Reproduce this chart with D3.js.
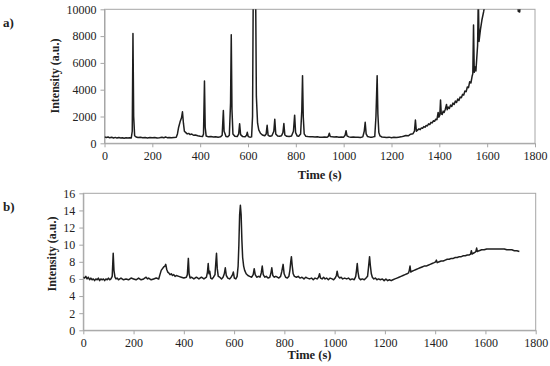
<!DOCTYPE html>
<html>
<head>
<meta charset="utf-8">
<title>Intensity vs time</title>
<script src="https://d3js.org/d3.v7.min.js"></script>
<style>
  body { margin: 0; background: #fff; }
  text { font-family: "Liberation Serif", "Times New Roman", serif; fill: #222; }
</style>
</head>
<body>
<div id="chart"></div>
<script>
// Panel a) data
var timeA = [0,8,15,22,30,38,45,52,60,68,75,82,90,98,105,112,116,119,122,126,132,140,150,160,170,180,190,200,210,220,230,240,248,255,262,270,280,290,300,305,310,316,322,326,330,334,340,346,352,358,365,372,380,390,400,410,414,418,421,425,435,445,455,465,475,485,492,497,500,504,508,515,522,527,530,533,537,545,555,561,565,569,578,588,594,597,601,608,615,619,622,627,632,635,640,645,652,660,670,676,680,684,692,700,708,712,716,724,732,740,746,750,754,762,772,782,790,795,799,806,812,820,825,828,831,835,842,850,860,870,880,890,900,910,920,930,936,940,944,952,960,970,980,990,1000,1006,1010,1014,1022,1030,1040,1050,1060,1070,1080,1086,1090,1094,1100,1110,1120,1130,1135,1140,1143,1147,1152,1160,1170,1180,1190,1200,1210,1220,1230,1240,1250,1260,1270,1280,1290,1296,1300,1304,1310,1315,1320,1325,1330,1335,1340,1345,1350,1355,1360,1365,1370,1375,1380,1385,1390,1395,1398,1402,1405,1408,1412,1416,1420,1425,1430,1433,1437,1442,1447,1452,1457,1462,1467,1472,1477,1482,1487,1492,1497,1502,1507,1512,1517,1522,1527,1532,1537,1540,1543,1546,1550,1553,1557,1560,1563,1566,1572,1578,1585,1592,1600,1620,1660,1700,1725,1730,1736,1740];
var intensityA = [480,430,470,410,450,400,440,390,430,400,420,380,410,390,420,400,900,8200,2000,560,470,430,450,410,440,400,430,410,440,400,420,450,410,470,420,440,410,430,450,700,1200,1600,1900,2350,1500,900,800,700,740,650,690,600,620,560,520,500,700,4650,1200,550,480,500,470,490,460,480,600,2450,900,720,500,480,600,3000,8100,2500,700,520,500,700,1450,650,500,480,600,820,500,460,480,2000,11500,12000,11000,3500,1500,1000,750,620,560,700,1350,600,520,560,900,1800,700,540,520,560,800,1480,620,520,500,540,900,2100,800,540,520,700,2500,5050,2000,700,520,500,480,490,470,480,460,450,470,450,520,750,500,480,470,490,460,470,460,600,940,560,480,460,470,450,460,440,480,900,1570,700,500,460,460,500,2000,5050,2200,800,550,470,450,430,460,420,450,430,460,480,520,580,560,680,720,900,1740,900,1000,1080,1020,1150,1120,1250,1200,1330,1300,1450,1400,1560,1520,1680,1640,1800,1760,2300,1950,2100,3230,2200,2150,2400,2300,2550,2900,2500,2700,2600,2850,2750,3000,2900,3150,3050,3300,3200,3450,3400,3650,3600,3900,3850,4200,4150,4600,4500,5000,5200,8830,5300,5700,5400,6500,7300,11000,7600,8500,9200,9800,10500,11200,12000,12000,12000,11500,9850,9800,11000];

// Panel b) data
var timeB = [0,5,10,15,20,25,30,35,40,45,50,55,60,65,70,75,80,85,90,95,100,105,110,115,119,122,126,130,135,140,145,150,160,170,180,190,200,210,220,230,240,250,255,260,270,280,290,300,305,310,315,320,325,328,332,336,340,345,350,355,360,365,370,380,390,400,410,414,418,421,425,430,440,450,460,470,480,490,494,497,500,503,507,512,518,524,527,530,533,537,543,550,556,561,565,569,575,582,588,594,597,601,607,612,616,619,622,625,628,631,634,638,642,648,655,662,670,676,680,684,690,697,703,708,712,716,722,728,735,742,746,750,754,760,766,772,778,785,790,795,799,805,812,818,822,825,828,831,835,840,848,855,862,870,878,885,892,900,908,915,922,930,936,940,944,950,956,962,968,975,982,990,996,1002,1007,1010,1014,1020,1026,1032,1040,1048,1055,1062,1070,1078,1084,1087,1090,1093,1097,1103,1110,1118,1125,1131,1135,1139,1142,1146,1150,1156,1162,1168,1175,1182,1190,1197,1204,1211,1218,1225,1232,1240,1248,1256,1264,1272,1280,1288,1294,1297,1300,1303,1308,1316,1324,1332,1340,1348,1356,1364,1372,1380,1388,1396,1402,1405,1408,1416,1424,1432,1440,1448,1456,1464,1472,1480,1488,1496,1504,1512,1520,1528,1536,1541,1544,1547,1552,1558,1562,1565,1568,1575,1585,1595,1605,1615,1625,1635,1645,1655,1665,1675,1685,1695,1705,1715,1725,1735];
var intensityB = [6.2,6.1,6.3,6.0,6.2,5.9,6.1,5.9,6.0,5.8,6.0,5.9,6.1,5.8,6.0,5.9,6.0,5.8,6.0,5.9,6.1,5.9,6.0,6.3,9.0,7.0,6.2,6.0,6.1,5.9,6.0,6.1,5.9,6.0,5.9,6.1,6.0,5.9,6.1,5.9,6.0,6.2,6.0,6.1,5.9,6.0,6.1,6.0,6.5,7.0,7.2,7.4,7.5,7.7,7.1,6.8,6.7,6.5,6.6,6.4,6.5,6.3,6.4,6.3,6.2,6.1,6.2,6.5,8.4,6.6,6.1,6.2,6.0,6.2,6.0,6.2,6.0,6.2,6.8,7.8,6.6,6.9,6.1,6.0,6.2,6.5,7.8,9.0,7.2,6.3,6.2,6.0,6.2,6.6,7.3,6.4,6.1,6.0,6.2,6.5,6.8,6.1,6.0,6.3,7.5,10.0,13.5,14.6,13.5,10.5,8.5,7.5,7.0,6.6,6.4,6.3,6.2,6.5,7.2,6.5,6.2,6.3,6.2,6.7,7.5,6.5,6.2,6.3,6.1,6.2,6.6,7.3,6.4,6.2,6.3,6.2,6.1,6.3,6.9,7.7,6.6,6.2,6.1,6.3,7.0,7.9,8.6,7.6,6.6,6.3,6.2,6.3,6.1,6.2,6.0,6.2,6.1,6.0,6.1,5.9,6.1,6.0,6.2,6.6,6.1,6.0,6.2,6.0,6.1,5.9,6.1,6.0,5.9,6.1,6.4,6.9,6.3,6.1,6.2,6.0,6.1,6.0,6.1,5.9,6.0,5.9,6.3,7.0,7.8,6.8,6.1,5.9,6.0,5.9,6.1,6.3,7.4,8.6,7.6,6.6,6.2,6.0,6.1,5.9,6.0,5.9,6.0,5.8,6.0,5.8,5.9,5.8,5.9,6.0,6.1,6.2,6.3,6.4,6.5,6.6,6.7,7.0,7.5,6.8,6.9,7.0,7.1,7.2,7.3,7.4,7.5,7.5,7.6,7.7,7.8,7.9,8.0,8.2,7.9,8.0,8.1,8.1,8.2,8.3,8.3,8.4,8.4,8.5,8.5,8.6,8.6,8.7,8.7,8.8,8.8,8.9,9.3,8.9,9.0,9.1,9.2,9.6,9.2,9.3,9.4,9.4,9.5,9.5,9.5,9.5,9.5,9.5,9.5,9.5,9.4,9.4,9.4,9.3,9.3,9.2];

// Axis ticks
var timeTicks = [0,200,400,600,800,1000,1200,1400,1600,1800];
var ticksA = [0,2000,4000,6000,8000,10000];
var ticksB = [0,2,4,6,8,10,12,14,16];

var serif = "'Liberation Serif', 'Times New Roman', serif";

var svg = d3.select("#chart").append("svg")
  .attr("width", 550).attr("height", 366);

function panel(opt) {
  var x = d3.scaleLinear().domain([0, 1800]).range([opt.left, opt.right]);
  var y = d3.scaleLinear().domain(opt.yDomain).range([opt.bottom, opt.top]);
  var g = svg.append("g");

  g.append("clipPath").attr("id", opt.id)
    .append("rect")
    .attr("x", opt.left).attr("y", opt.top)
    .attr("width", opt.right - opt.left).attr("height", opt.bottom - opt.top);

  // box
  g.append("rect")
    .attr("x", opt.left).attr("y", opt.top)
    .attr("width", opt.right - opt.left).attr("height", opt.bottom - opt.top)
    .attr("fill", "none").attr("stroke", "#a6a6a6").attr("stroke-width", 1);

  var xa = g.append("g").attr("transform", "translate(0," + opt.bottom + ")")
    .call(d3.axisBottom(x).tickValues(timeTicks).tickFormat(d3.format("d"))
      .tickSize(4).tickSizeOuter(0).tickPadding(4));
  var ya = g.append("g").attr("transform", "translate(" + opt.left + ",0)")
    .call(d3.axisLeft(y).tickValues(opt.yTicks).tickFormat(d3.format("d"))
      .tickSize(4).tickSizeOuter(0).tickPadding(4));
  [xa, ya].forEach(function (a) {
    a.attr("font-family", serif).attr("font-size", 12);
    a.selectAll("path, line").attr("stroke", "#a6a6a6");
    a.selectAll("text").attr("fill", "#222");
  });

  var pts = opt.t.map(function (t, i) { return [t, opt.v[i]]; });
  g.append("path").datum(pts)
    .attr("clip-path", "url(#" + opt.id + ")")
    .attr("fill", "none").attr("stroke", "#1e1e1e").attr("stroke-width", 1.5)
    .attr("stroke-linejoin", "round")
    .attr("d", d3.line().x(function (d) { return x(d[0]); }).y(function (d) { return y(d[1]); }));

  g.append("text").attr("x", (opt.left + opt.right) / 2).attr("y", opt.xTitleY)
    .attr("text-anchor", "middle").attr("font-weight", "bold").attr("font-size", 12.5)
    .text("Time  (s)");
  g.append("text")
    .attr("transform", "translate(" + opt.yTitleX + "," + opt.yTitleY + ") rotate(-90)")
    .attr("text-anchor", "middle").attr("font-weight", "bold").attr("font-size", 12)
    .text("Intensity (a.u.)");
  g.append("text").attr("x", 3).attr("y", opt.tagY)
    .attr("font-weight", "bold").attr("font-size", 13).text(opt.tag);
}

panel({ id: "clipA", t: timeA, v: intensityA, yDomain: [0, 10000], yTicks: ticksA,
  left: 104.5, right: 535, top: 9.3, bottom: 143.3,
  xTitleY: 179, yTitleX: 59, yTitleY: 76, tag: "a)", tagY: 27 });

panel({ id: "clipB", t: timeB, v: intensityB, yDomain: [0, 16], yTicks: ticksB,
  left: 83.3, right: 535.7, top: 193.3, bottom: 330.3,
  xTitleY: 359, yTitleX: 56, yTitleY: 254, tag: "b)", tagY: 211 });
</script>
</body>
</html>
